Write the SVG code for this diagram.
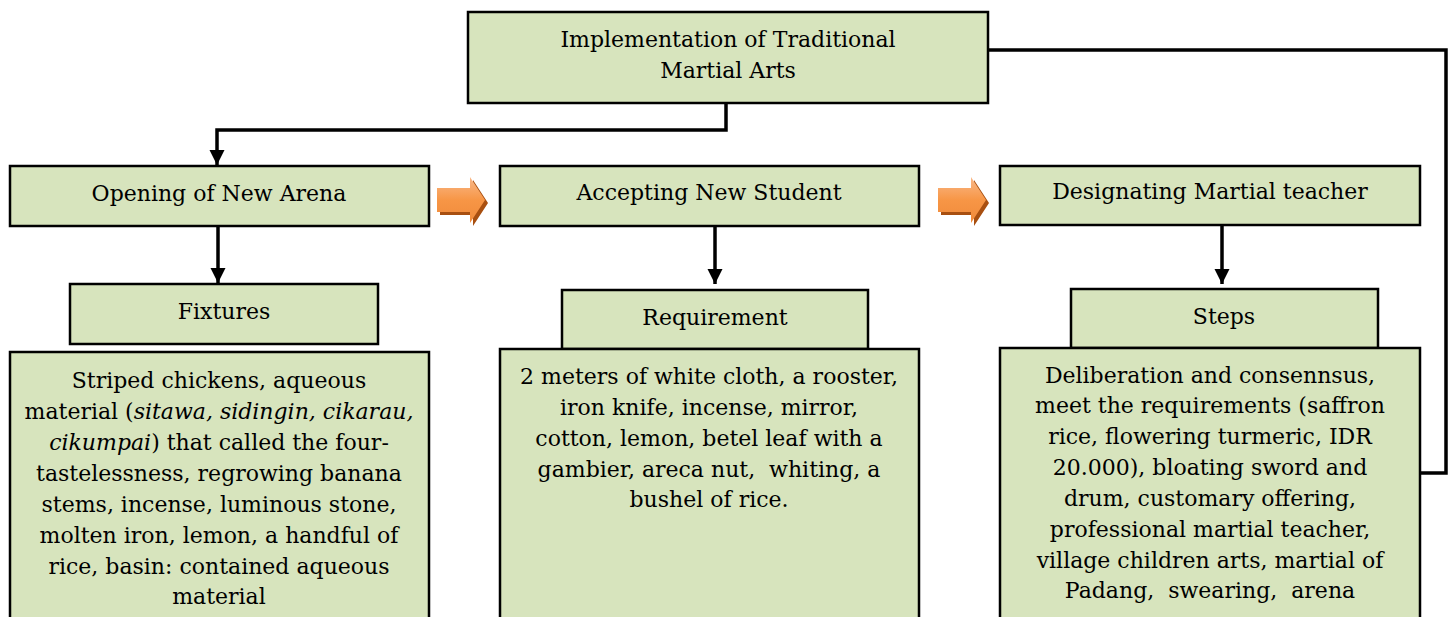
<svg xmlns="http://www.w3.org/2000/svg" width="1448" height="617" viewBox="0 0 1448 617">
<defs>
<style>
.box{fill:#d7e4bd;stroke:#000;stroke-width:2.5}
.t{font-family:"DejaVu Serif","Liberation Serif",serif;font-size:22px;fill:#000;text-anchor:middle}
.c{fill:none;stroke:#000;stroke-width:3.5}
.i{font-style:italic}
</style>
<marker id="ah" markerWidth="4.4" markerHeight="4.4" refX="4.4" refY="2.2" orient="auto" markerUnits="strokeWidth">
<path d="M0,0 L4.4,2.2 L0,4.4 Z" fill="#000"/>
</marker>
<linearGradient id="og" x1="0" y1="0" x2="0" y2="1">
<stop offset="0" stop-color="#f9b98a"/>
<stop offset="0.5" stop-color="#f79646"/>
<stop offset="1" stop-color="#f08a3a"/>
</linearGradient>
<g id="oarrow">
<path d="M3,11 H36 V0 L51,23 L36,46 V35 H3 Z" fill="#a84f10"/>
<path d="M0,8 H33 V-3 L48,20 L33,43 V32 H0 Z" fill="url(#og)"/>
</g>
</defs>

<g id="connectors">
<polyline class="c" points="726,103 726,130 217,130 217,165" marker-end="url(#ah)"/>
<polyline class="c" points="988,50 1446,50 1446,473 1420,473"/>
<line class="c" x1="218" y1="226" x2="218" y2="283" marker-end="url(#ah)"/>
<line class="c" x1="715" y1="226" x2="715" y2="284" marker-end="url(#ah)"/>
<line class="c" x1="1222" y1="225" x2="1222" y2="284" marker-end="url(#ah)"/>
<use href="#oarrow" x="437" y="180"/>
<use href="#oarrow" x="938" y="180"/>
</g>

<g id="top">
<rect class="box" x="468" y="12" width="520" height="91"/>
<text class="t" x="728" y="47">Implementation of Traditional</text>
<text class="t" x="728" y="78">Martial Arts</text>
</g>

<g id="opening">
<rect class="box" x="10" y="166" width="419" height="60"/>
<text class="t" x="219" y="201">Opening of New Arena</text>
</g>
<g id="accepting">
<rect class="box" x="500" y="166" width="419" height="60"/>
<text class="t" x="709" y="200">Accepting New Student</text>
</g>
<g id="designating">
<rect class="box" x="1000" y="166" width="420" height="59"/>
<text class="t" x="1210" y="199">Designating Martial teacher</text>
</g>

<g id="fixtures">
<rect class="box" x="70" y="284" width="308" height="60"/>
<text class="t" x="224" y="319">Fixtures</text>
</g>
<g id="requirement">
<rect class="box" x="562" y="290" width="306" height="59"/>
<text class="t" x="715" y="325">Requirement</text>
</g>
<g id="steps">
<rect class="box" x="1071" y="289" width="307" height="59"/>
<text class="t" x="1224" y="324">Steps</text>
</g>

<g id="fixtures-detail">
<rect class="box" x="10" y="352" width="419" height="280"/>
<text class="t" x="219" y="388">Striped chickens, aqueous</text>
<text class="t" x="219" y="419">material (<tspan class="i">sitawa, sidingin, cikarau,</tspan></text>
<text class="t" x="219" y="450"><tspan class="i">cikumpai</tspan>) that called the four-</text>
<text class="t" x="219" y="481">tastelessness, regrowing banana</text>
<text class="t" x="219" y="512">stems, incense, luminous stone,</text>
<text class="t" x="219" y="543">molten iron, lemon, a handful of</text>
<text class="t" x="219" y="574">rice, basin: contained aqueous</text>
<text class="t" x="219" y="604">material</text>
</g>

<g id="requirement-detail">
<rect class="box" x="500" y="349" width="419" height="283"/>
<text class="t" x="709" y="384">2 meters of white cloth, a rooster,</text>
<text class="t" x="709" y="415">iron knife, incense, mirror,</text>
<text class="t" x="709" y="446">cotton, lemon, betel leaf with a</text>
<text class="t" x="709" y="477" xml:space="preserve">gambier, areca nut,  whiting, a</text>
<text class="t" x="709" y="507">bushel of rice.</text>
</g>

<g id="steps-detail">
<rect class="box" x="1000" y="348" width="420" height="284"/>
<text class="t" x="1210" y="383">Deliberation and consennsus,</text>
<text class="t" x="1210" y="413">meet the requirements (saffron</text>
<text class="t" x="1210" y="444">rice, flowering turmeric, IDR</text>
<text class="t" x="1210" y="475">20.000), bloating sword and</text>
<text class="t" x="1210" y="506">drum, customary offering,</text>
<text class="t" x="1210" y="537">professional martial teacher,</text>
<text class="t" x="1210" y="568">village children arts, martial of</text>
<text class="t" x="1210" y="598" xml:space="preserve">Padang,  swearing,  arena</text>
</g>
</svg>
